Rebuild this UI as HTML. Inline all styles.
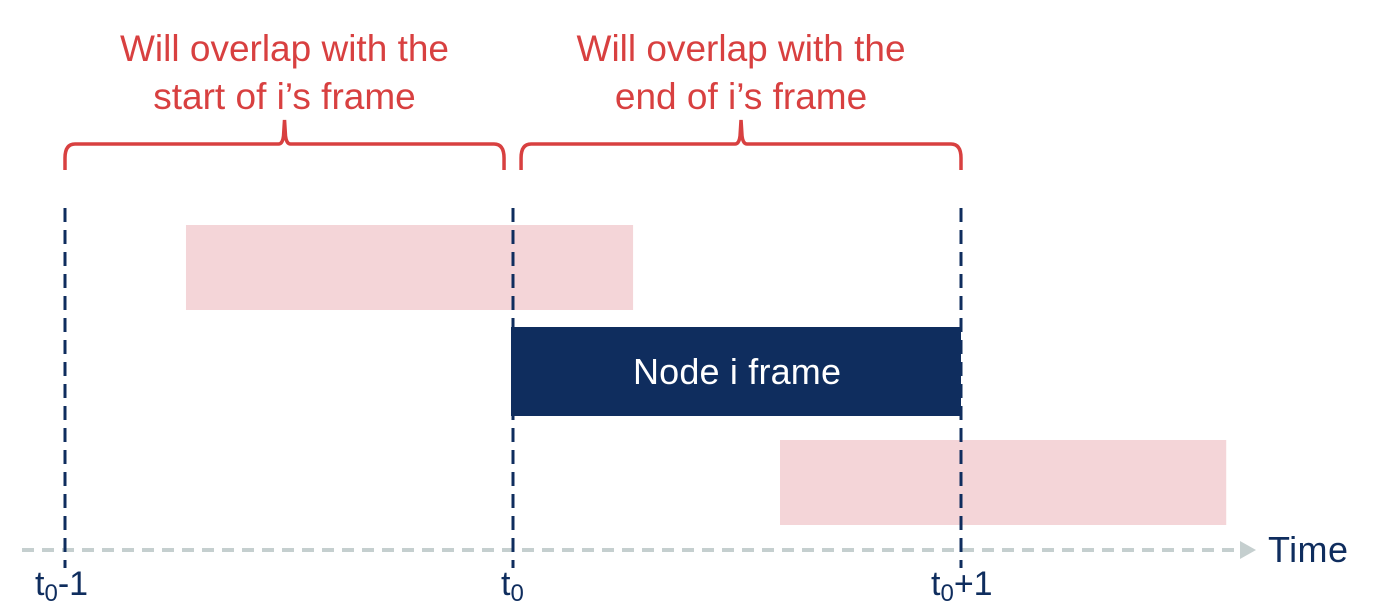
<!DOCTYPE html>
<html><head><meta charset="utf-8"><style>
html,body{margin:0;padding:0;background:#fff;}
svg{display:block;font-family:"Liberation Sans",sans-serif;}
</style></head><body>
<svg id="c" width="1374" height="608"></svg>
<script>
const tickValues=[0,1,2];
const tickLabels=[["t","0","-1"],["t","0",""],["t","0","+1"]];
const barStarts=[0.27,1.0,1.596];
const barEnds=[1.268,2.0,2.592];
const barRows=[0,1,2];
const barNames=["overlap-start-bar","node-i-frame-bar","overlap-end-bar"];
const barLabels=["","Node i frame",""];
const braceRanges=[[0,0.98],[1.018,2]];
const braceLines=[["Will overlap with the","start of i’s frame"],["Will overlap with the","end of i’s frame"]];
const NS="http://www.w3.org/2000/svg";
const svg=document.getElementById('c');
const x=v=>65+v*448;
const rowY=r=>[225,327,440][r];
function mk(t,a,p){const e=document.createElementNS(NS,t);for(const k in a)e.setAttribute(k,a[k]);(p||svg).appendChild(e);return e;}
function drawBar(i){
  const s=barStarts[i];
  const r=mk('rect',{x:x(s)-(i==1?2:0),y:rowY(barRows[i]),width:x(barEnds[i])-x(s)+(i==1?2:0),height:i==1?89:85,fill:i==1?'#0f2d5e':'#f4d5d8'});
  
  
  if(barLabels[i]){const t=mk('text',{x:(x(s)+x(barEnds[i]))/2,y:rowY(barRows[i])+57,'text-anchor':'middle',fill:'#fff','font-size':36,textLength:208});t.textContent=barLabels[i];
  
  }
}
drawBar(0);drawBar(2);
// axis
const ax=mk('line',{x1:22,y1:550,x2:1242,y2:550,stroke:'#c5cfcf','stroke-width':4,'stroke-dasharray':'12 8'});


const ah=mk('path',{d:'M1240 541 L1256 550 L1240 559 Z',fill:'#c5cfcf'});


const tt=mk('text',{x:1268,y:562,fill:'#0f2d5e','font-size':36,textLength:80});tt.textContent='Time';


// gridlines + ticks
tickValues.forEach((v,i)=>{
  const l=mk('line',{x1:x(v),y1:208,x2:x(v),y2:568,stroke:'#0f2d5e','stroke-width':3,'stroke-dasharray':'14 8'});
  
  
  const t=mk('text',{x:x(v)-(i==1?12:30),y:595,fill:'#0f2d5e','font-size':34});
  
  
  const a=mk('tspan',{},t);a.textContent=tickLabels[i][0];
  const b=mk('tspan',{'font-size':24,dy:6},t);b.textContent=tickLabels[i][1];
  if(tickLabels[i][2]){const c=mk('tspan',{dy:-6},t);c.textContent=tickLabels[i][2];}
});
drawBar(1);
// braces
braceRanges.forEach((r,i)=>{
  const a=x(r[0]),b=x(r[1]),m=(a+b)/2;
  const p=mk('path',{d:`M${a} 170 L${a} 158 Q${a} 144 ${a+10} 144 L${m-6} 144 Q${m-2} 144 ${m-1} 136 L${m} 120 L${m+1} 136 Q${m+2} 144 ${m+6} 144 L${b-10} 144 Q${b} 144 ${b} 158 L${b} 170`,fill:'none',stroke:'#d84040','stroke-width':3.5});
  
  
  braceLines[i].forEach((s,j)=>{
    const t=mk('text',{x:m,y:61+j*48,'text-anchor':'middle',fill:'#d84040','font-size':37});t.textContent=s;
    
    
  });
});
</script>
</body></html>
